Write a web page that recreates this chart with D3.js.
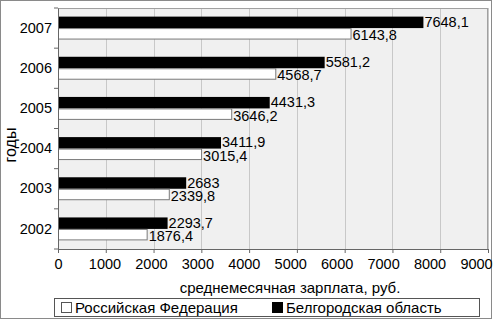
<!DOCTYPE html>
<html>
<head>
<meta charset="utf-8">
<script src="https://cdn.jsdelivr.net/npm/d3@7"></script>
<style>
body { margin: 0; background: #fff; }
svg { display: block; font-family: 'Liberation Sans', Arial, sans-serif; }
</style>
</head>
<body>
<svg width="493" height="320"></svg>
<script>
// data
var years = ["2007", "2006", "2005", "2004", "2003", "2002"];
var belgorod = [7648.1, 5581.2, 4431.3, 3411.9, 2683, 2293.7];
var russia = [6143.8, 4568.7, 3646.2, 3015.4, 2339.8, 1876.4];
var seriesNames = ["Российская Федерация", "Белгородская область"];
var xTicks = [0, 1000, 2000, 3000, 4000, 5000, 6000, 7000, 8000, 9000];

var svg = d3.select("svg");
var pLeft = 58, pRight = 488, pTop = 8, pBottom = 249;

// outer frame
svg.append("rect").attr("x", 0.5).attr("y", 0.5).attr("width", 491).attr("height", 318)
  .attr("fill", "#fff").attr("stroke", "#8a8a8a");

var x = d3.scaleLinear().domain([0, 9000]).range([pLeft, pRight]);
// tick labels in the original sit a little tighter than the ticks
var xLab = d3.scaleLinear().domain([0, 9000]).range([pLeft, 476]);
var y = d3.scaleBand().domain(years).range([pTop, pBottom]);
var inner = d3.scaleBand().domain(["b", "r"]).range([0, y.bandwidth()]).paddingOuter(0.75);

// plot background
svg.append("rect").attr("x", pLeft).attr("y", pTop).attr("width", pRight - pLeft).attr("height", pBottom - pTop)
  .attr("fill", "#f0f0f0");

// vertical grid
svg.selectAll("line.grid").data(xTicks.slice(1)).enter().append("line")
  .attr("class", "grid")
  .attr("x1", function (d) { return Math.round(x(d)) + 0.5; })
  .attr("x2", function (d) { return Math.round(x(d)) + 0.5; })
  .attr("y1", pTop).attr("y2", pBottom)
  .attr("stroke", "#c8c8c8");

// plot border
svg.append("rect").attr("x", pLeft + 0.5).attr("y", pTop + 0.5).attr("width", pRight - pLeft - 1).attr("height", pBottom - pTop)
  .attr("fill", "none").attr("stroke", "#a0a0a0");

// bars
var rows = years.map(function (yr, i) { return { year: yr, b: belgorod[i], r: russia[i] }; });
var g = svg.selectAll("g.row").data(rows).enter().append("g")
  .attr("class", "row")
  .attr("transform", function (d) { return "translate(0," + y(d.year) + ")"; });

g.append("rect")
  .attr("x", pLeft).attr("y", inner("b"))
  .attr("width", function (d) { return x(d.b) - pLeft; })
  .attr("height", inner.bandwidth())
  .attr("fill", "#000");

g.append("rect")
  .attr("x", pLeft + 0.5).attr("y", inner("r") + 0.5)
  .attr("width", function (d) { return x(d.r) - pLeft - 1; })
  .attr("height", inner.bandwidth() - 1)
  .attr("fill", "#fff").attr("stroke", "#7a7a7a");

function fmt(v) { return String(v).replace(".", ","); }

g.append("text")
  .attr("x", function (d) { return x(d.b) + 1; })
  .attr("y", inner("b") + inner.bandwidth() / 2 + 4.5)
  .attr("font-size", 14.5).attr("fill", "#000")
  .text(function (d) { return fmt(d.b); });

g.append("text")
  .attr("x", function (d) { return x(d.r) + 1; })
  .attr("y", inner("r") + inner.bandwidth() / 2 + 6.5)
  .attr("font-size", 14.5).attr("fill", "#000")
  .text(function (d) { return fmt(d.r); });

// x axis
var xAxis = svg.append("g").attr("transform", "translate(0," + pBottom + ")")
  .call(d3.axisBottom(x).tickValues(xTicks).tickSize(4).tickPadding(6).tickFormat(d3.format("d")));
xAxis.select(".domain").attr("stroke", "#666");
xAxis.selectAll(".tick line").attr("stroke", "#666");
xAxis.selectAll(".tick text")
  .attr("dx", function (d) { return xLab(d) - x(d); })
  .attr("font-size", 14.5).attr("fill", "#000").attr("font-family", "Liberation Sans, Arial, sans-serif");

// y axis
var yAxis = svg.append("g").attr("transform", "translate(" + pLeft + ",0)")
  .call(d3.axisLeft(y).tickSize(0).tickPadding(6));
yAxis.select(".domain").attr("stroke", "#666");
yAxis.selectAll("text").attr("font-size", 14.5).attr("fill", "#000").attr("font-family", "Liberation Sans, Arial, sans-serif");
// ticks at band borders
svg.selectAll("line.ytick").data(d3.range(years.length + 1)).enter().append("line")
  .attr("class", "ytick")
  .attr("x1", pLeft - 4).attr("x2", pLeft)
  .attr("y1", function (i) { return pTop + i * y.step(); })
  .attr("y2", function (i) { return pTop + i * y.step(); })
  .attr("stroke", "#666");

// titles
svg.append("text").attr("x", 290).attr("y", 293).attr("text-anchor", "middle")
  .attr("font-size", 15).text("среднемесячная зарплата, руб.");
svg.append("text").attr("transform", "translate(16,145) rotate(-90)").attr("text-anchor", "middle")
  .attr("font-size", 16).text("годы");

// legend
svg.append("rect").attr("x", 54.5).attr("y", 298.5).attr("width", 425).attr("height", 18)
  .attr("fill", "#fff").attr("stroke", "#555");
var legX = [61, 272];
var legFill = ["#fff", "#000"];
var lg = svg.selectAll("g.leg").data(seriesNames).enter().append("g").attr("class", "leg");
lg.append("rect")
  .attr("x", function (d, i) { return legX[i] + 0.5; }).attr("y", 302.5)
  .attr("width", 10).attr("height", 10)
  .attr("fill", function (d, i) { return legFill[i]; })
  .attr("stroke", function (d, i) { return i ? "#000" : "#555"; });
lg.append("text")
  .attr("x", function (d, i) { return legX[i] + 14; }).attr("y", 313)
  .attr("font-size", 15).text(function (d) { return d; });
</script>
</body>
</html>
